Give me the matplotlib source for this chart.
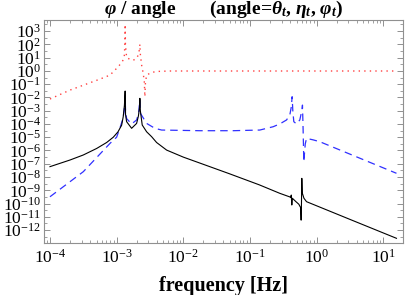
import numpy as np
import matplotlib
matplotlib.use("Agg")
import matplotlib.pyplot as plt
from matplotlib.ticker import LogLocator, NullFormatter

plt.rcParams['font.family'] = ['Liberation Serif', 'DejaVu Serif']
plt.rcParams['mathtext.fontset'] = 'custom'
plt.rcParams['mathtext.rm'] = 'Liberation Serif'
plt.rcParams['mathtext.it'] = 'Liberation Serif:italic:bold'
plt.rcParams['mathtext.bf'] = 'Liberation Serif:bold'

# values, as powers of ten (log10 f, log10 amplitude)
red_lf = [-4.0, -3.70, -3.25, -3.10, -2.976, -2.916, -2.886, -2.876, -2.872, -2.868,
          -2.850, -2.80, -2.751, -2.70, -2.676, -2.658, -2.651, -2.645, -2.625, -2.601,
          -2.585, -2.576, -2.568, -2.550, -2.475, -2.376, -2.20, 1.198]
red_lv = [-2.12, -1.45, -0.62, -0.32, 0.31, 0.69, 0.99, 2.0, 3.5, 2.0,
          1.0, 0.87, 0.80, 0.94, 1.19, 1.6, 2.0, 1.3, 0.44, -0.19,
          -0.8, -1.95, -0.9, -0.32, -0.11, -0.04, -0.01, -0.01]

blk_lf = [-4.0, -3.70, -3.50, -3.30, -3.15, -3.05, -2.98, -2.925, -2.901, -2.883,
          -2.872, -2.866, -2.850, -2.775, -2.700, -2.673, -2.658, -2.651, -2.644, -2.616,
          -2.55, -2.475, -2.40, -2.25, -2.0, -1.751, -1.31, -0.86, -0.552, -0.402,
          -0.387, -0.380, -0.372, -0.364, -0.312, -0.267, -0.240, -0.232, -0.227, -0.222,
          -0.215, -0.19, -0.151, 0.498, 1.198]
blk_lv = [-7.22, -6.72, -6.34, -5.85, -5.40, -5.00, -4.6, -4.1, -3.46, -2.6,
          -1.52, -3.3, -3.83, -4.33, -3.96, -3.4, -2.8, -2.07, -3.0, -4.08,
          -4.59, -4.96, -5.40, -5.97, -6.50, -6.95, -7.75, -8.59, -9.23, -9.50,
          -9.55, -9.36, -10.11, -9.60, -9.85, -10.05, -10.3, -11.25, -10.0, -8.1,
          -9.2, -9.6, -9.86, -11.19, -12.62]

blu_lf = [-4.0, -3.50, -3.10, -3.0, -2.95, -2.905, -2.886, -2.872, -2.866, -2.85,
          -2.775, -2.70, -2.67, -2.651, -2.643, -2.55, -2.426, -2.325, -1.751, -1.256,
          -0.852, -0.652, -0.552, -0.451, -0.402, -0.379, -0.367, -0.357, -0.342, -0.301,
          -0.252, -0.222, -0.212, -0.202, -0.192, -0.17, -0.151, -0.052, 0.048, 1.198]
blu_lv = [-9.49, -7.6, -5.47, -5.0, -4.3, -3.6, -3.0, -1.95, -3.0, -3.6,
          -4.0, -3.7, -3.2, -2.2, -3.2, -3.96, -4.33, -4.46, -4.51, -4.51,
          -4.46, -4.21, -4.0, -3.7, -3.33, -2.7, -1.95, -3.0, -3.83, -4.0,
          -3.7, -3.0, -2.58, -4.5, -6.85, -5.5, -5.09, -5.2, -5.34, -7.72]

y_label_exps = list(range(3, -13, -1))

fig = plt.figure(figsize=(4.07, 2.95), dpi=100)
ax = fig.add_axes([0.108, 0.176, 0.882, 0.756])

ax.plot(10.0 ** np.array(red_lf), 10.0 ** np.array(red_lv), color='#ff4040', lw=1.0,
        linestyle=(0, (1, 3)))
ax.plot(10.0 ** np.array(blu_lf), 10.0 ** np.array(blu_lv), color='#3030ff', lw=0.9,
        linestyle=(0, (6, 4)))
ax.plot(10.0 ** np.array(blk_lf), 10.0 ** np.array(blk_lv), color='black', lw=0.8)

ax.set_xscale('log')
ax.set_yscale('log')
ax.set_xlim(10 ** -4.09, 10 ** 1.295)
ax.set_ylim(10 ** -12.98, 10 ** 3.83)

ax.xaxis.set_major_locator(LogLocator(base=10, numticks=20))
ax.xaxis.set_minor_locator(LogLocator(base=10, subs=np.arange(2, 10), numticks=20))
ax.xaxis.set_minor_formatter(NullFormatter())
ax.set_yticks([10.0 ** e for e in y_label_exps])
ax.set_yticklabels([r'$10^{%d}$' % e for e in y_label_exps])
ax.yaxis.set_minor_locator(LogLocator(base=10, subs=[3.16], numticks=40))
ax.yaxis.set_minor_formatter(NullFormatter())

for s in ax.spines.values():
    s.set_color('#909090')
    s.set_linewidth(0.8)
ax.tick_params(which='both', direction='in', top=True, right=True, color='#909090',
               labelsize=12.5, pad=4)
ax.tick_params(which='major', length=4, width=0.7)
ax.tick_params(which='minor', length=2, width=0.6)
ax.tick_params(axis='y', pad=2)

ax.set_xlabel('frequency [Hz]', fontsize=14.5, fontweight='bold', labelpad=7)
ax.set_title(r'$\varphi$ / angle       (angle=$\theta_t$, $\eta_t$, $\varphi_t$)',
             fontsize=14, fontweight='bold', pad=2)

fig.savefig('out.png', dpi=100)
